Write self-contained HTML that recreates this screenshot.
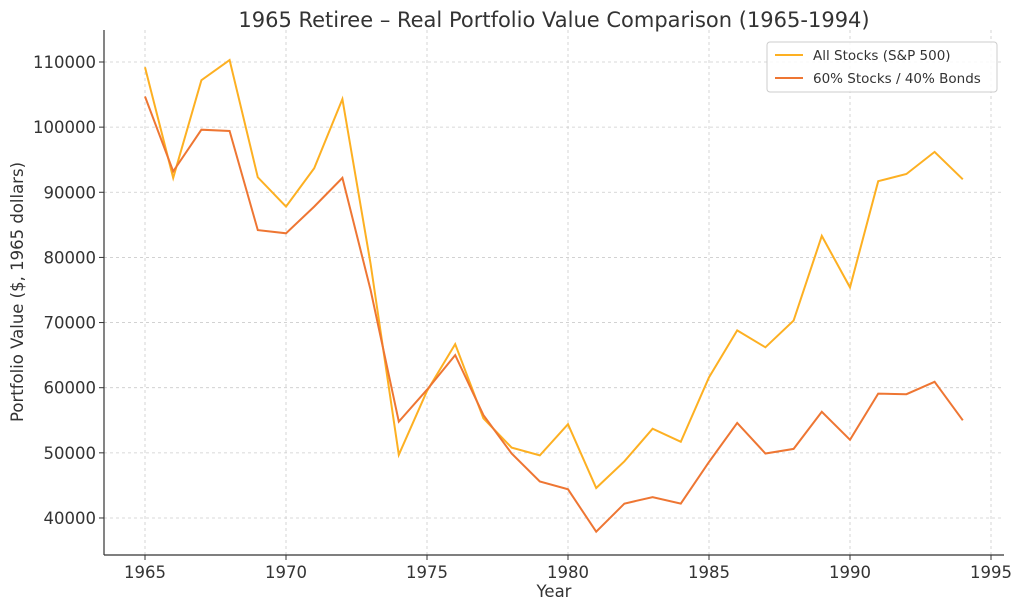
<!DOCTYPE html>
<html><head><meta charset="utf-8"><style>
html,body{margin:0;padding:0;background:#fff;}
svg{display:block;font-family:"DejaVu Sans","Liberation Sans",sans-serif;}
</style></head><body>
<svg id="s" width="1024" height="611" viewBox="0 0 1024 611" xmlns="http://www.w3.org/2000/svg">
<rect width="1024" height="611" fill="#fff"/>
<g id="grid" stroke="#cccccc" stroke-width="0.8" stroke-dasharray="3,3"></g>
<g id="lines"></g>
<line x1="104" y1="30" x2="104" y2="555" stroke="#333" stroke-width="1.2"/>
<line x1="104" y1="555" x2="1004" y2="555" stroke="#333" stroke-width="1.2"/>
<g id="ticks" fill="#333" font-size="16.5"></g>
<text x="554" y="27" text-anchor="middle" font-size="21" fill="#333">1965 Retiree – Real Portfolio Value Comparison (1965-1994)</text>
<text x="554" y="597" text-anchor="middle" font-size="16.5" fill="#333">Year</text>
<text transform="translate(23,292) rotate(-90)" text-anchor="middle" font-size="16.5" fill="#333">Portfolio Value ($, 1965 dollars)</text>
<rect x="767" y="42" width="230" height="50" rx="3" fill="#fff" fill-opacity="0.85" stroke="#ccc"/>
<line x1="775" y1="55" x2="803" y2="55" stroke="#FDB022" stroke-width="2"/>
<text x="813" y="60" font-size="13.5" fill="#333">All Stocks (S&amp;P 500)</text>
<line x1="775" y1="78" x2="803" y2="78" stroke="#EE7633" stroke-width="2"/>
<text x="813" y="83" font-size="13.5" fill="#333">60% Stocks / 40% Bonds</text>
</svg>
<script>
var X=function(y){return 145+(y-1965)*28.2;},Y=function(v){return 62+(110000-v)/10000*65.14;};
var ns="http://www.w3.org/2000/svg";
function el(p,t,a,txt){var e=document.createElementNS(ns,t);for(var k in a)e.setAttribute(k,a[k]);if(txt)e.textContent=txt;document.getElementById(p).appendChild(e);}
for(var y=1965;y<=1995;y+=5){el("grid","line",{x1:X(y),x2:X(y),y1:30,y2:555});el("ticks","line",{x1:X(y),x2:X(y),y1:555,y2:560,stroke:"#333"});el("ticks","text",{x:X(y),y:578,"text-anchor":"middle"},""+y);}
for(var v=40000;v<=110000;v+=10000){el("grid","line",{x1:104,x2:1004,y1:Y(v),y2:Y(v)});el("ticks","line",{x1:99,x2:104,y1:Y(v),y2:Y(v),stroke:"#333"});el("ticks","text",{x:96,y:Y(v)+6,"text-anchor":"end"},""+v);}
var a=[109200,92200,107200,110300,92300,87800,93700,104300,79000,49700,59500,66700,55300,50800,49600,54400,44600,48700,53700,51700,61600,68800,66200,70300,83300,75400,91700,92800,96200,92000];
var b=[104700,93200,99600,99400,84200,83700,87800,92200,75000,54800,59700,65000,55800,49900,45600,44400,37900,42200,43200,42200,48600,54600,49900,50600,56300,52000,59100,59000,60900,55000];
function pts(d){return d.map(function(v,i){return X(1965+i).toFixed(1)+","+Y(v).toFixed(1);}).join(" ");}
el("lines","polyline",{points:pts(a),fill:"none",stroke:"#FDB022","stroke-width":2});
el("lines","polyline",{points:pts(b),fill:"none",stroke:"#EE7633","stroke-width":2});
</script>
</body></html>
